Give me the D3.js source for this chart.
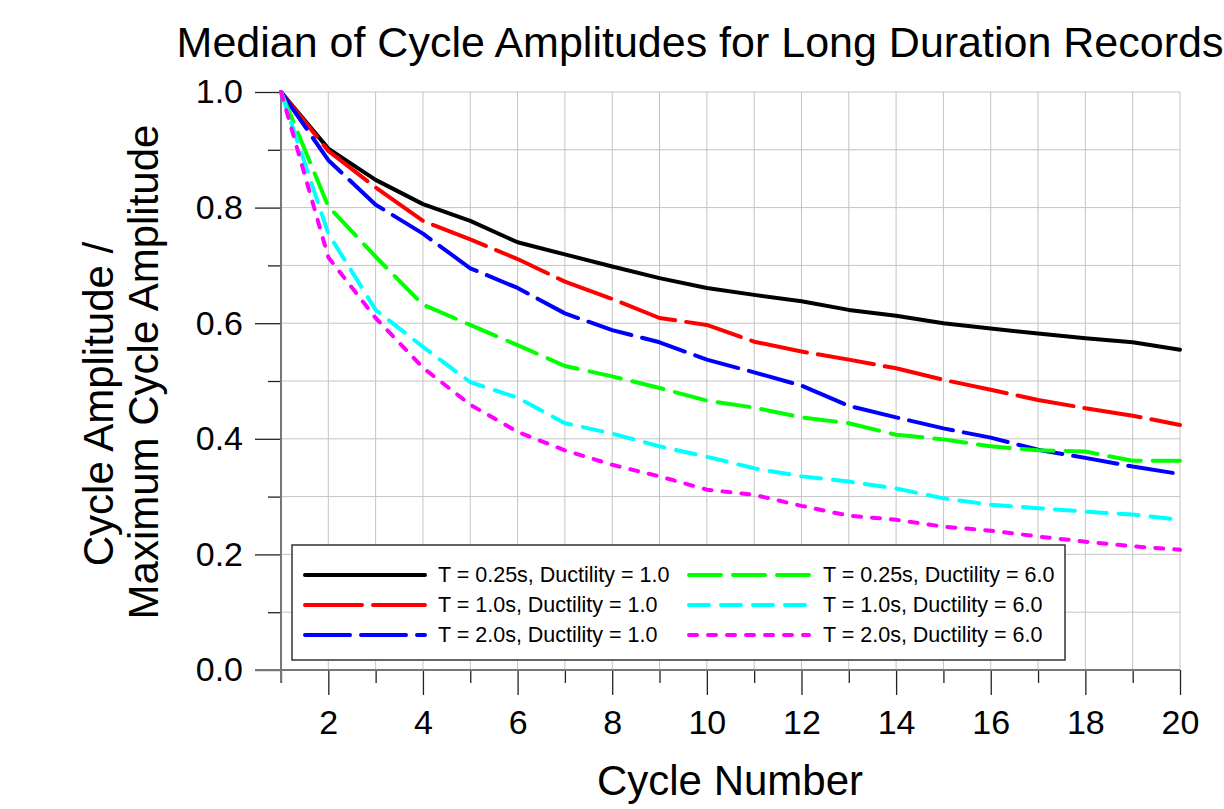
<!DOCTYPE html>
<html>
<head>
<meta charset="utf-8">
<script src="https://cdn.jsdelivr.net/npm/d3@7"></script>
<style>
  body { margin: 0; background: #fff; }
  svg { display: block; font-family: "Liberation Sans", Arial, sans-serif; }
</style>
</head>
<body>
<div id="chart"></div>
<script>
// ─── DATA ─────────────────────────────────────────────────────────────────────
const cycles = d3.range(1, 21);

const t025_d1 = [1.0, 0.902, 0.848, 0.806, 0.777, 0.740, 0.719, 0.698, 0.678, 0.661,
                 0.649, 0.638, 0.623, 0.613, 0.600, 0.591, 0.582, 0.574, 0.567, 0.554];
const t10_d1  = [1.0, 0.898, 0.835, 0.777, 0.745, 0.711, 0.672, 0.642, 0.609, 0.597,
                 0.568, 0.551, 0.537, 0.522, 0.502, 0.485, 0.467, 0.453, 0.440, 0.424];
const t20_d1  = [1.0, 0.882, 0.805, 0.755, 0.695, 0.661, 0.617, 0.588, 0.567, 0.537,
                 0.515, 0.492, 0.457, 0.437, 0.418, 0.402, 0.381, 0.367, 0.352, 0.339];
const t025_d6 = [1.0, 0.802, 0.715, 0.632, 0.597, 0.562, 0.526, 0.508, 0.488, 0.466,
                 0.454, 0.437, 0.427, 0.407, 0.399, 0.387, 0.380, 0.378, 0.362, 0.362];
const t10_d6  = [1.0, 0.755, 0.623, 0.559, 0.498, 0.471, 0.427, 0.409, 0.387, 0.369,
                 0.349, 0.335, 0.326, 0.314, 0.297, 0.286, 0.280, 0.274, 0.269, 0.260];
const t20_d6  = [1.0, 0.714, 0.609, 0.523, 0.459, 0.412, 0.380, 0.355, 0.335, 0.312,
                 0.303, 0.284, 0.267, 0.260, 0.248, 0.241, 0.231, 0.222, 0.214, 0.208];

const seriesNames = [
  "T = 0.25s, Ductility = 1.0",
  "T = 1.0s, Ductility = 1.0",
  "T = 2.0s, Ductility = 1.0",
  "T = 0.25s, Ductility = 6.0",
  "T = 1.0s, Ductility = 6.0",
  "T = 2.0s, Ductility = 6.0"
];
const seriesValues = [t025_d1, t10_d1, t20_d1, t025_d6, t10_d6, t20_d6];

const xMajorTicks = d3.range(2, 21, 2);
const xMinorTicks = d3.range(1, 21, 2);
const yMajorTicks = [0, 0.2, 0.4, 0.6, 0.8, 1.0];
const yMinorTicks = [0.1, 0.3, 0.5, 0.7, 0.9];

// ─── STYLE ────────────────────────────────────────────────────────────────────
const colors = ["#000000", "#ff0000", "#0000ff", "#00ff00", "#00ffff", "#ff00ff"];
const dashes = ["none", "57,11", "45,11", "32,12", "20,12", "8,11"];

const W = 1224, H = 809;
const svg = d3.select("#chart").append("svg").attr("width", W).attr("height", H);

const x = d3.scaleLinear().domain([1, 20]).range([281, 1180]);
const y = d3.scaleLinear().domain([0, 1]).range([670, 92]);

// 1. Grid
const grid = svg.append("g").attr("stroke", "#c4c4c4").attr("stroke-width", 1);
grid.selectAll(".gv").data(d3.range(2, 21)).join("line")
  .attr("x1", d => x(d)).attr("x2", d => x(d))
  .attr("y1", y(0)).attr("y2", y(1));
grid.selectAll(".gh").data(d3.range(1, 11).map(d => d / 10)).join("line")
  .attr("x1", x(1)).attr("x2", x(20))
  .attr("y1", d => y(d)).attr("y2", d => y(d));

// 2. Axes (ticks through d3 axis generators)
function styleAxis(g) {
  g.select(".domain").remove();
  g.selectAll(".tick line").attr("stroke", "#222").attr("stroke-width", 1.3);
  g.selectAll(".tick text")
    .attr("fill", "#000")
    .style("font-size", "34px")
    .style("font-family", '"Liberation Sans", Arial, sans-serif');
}

svg.append("g").attr("transform", `translate(0,${y(0)})`)
  .call(d3.axisBottom(x).tickValues(xMinorTicks).tickSize(13).tickFormat(""))
  .call(styleAxis);
svg.append("g").attr("transform", `translate(0,${y(0)})`)
  .call(d3.axisBottom(x).tickValues(xMajorTicks).tickSize(25).tickPadding(15).tickFormat(d3.format("d")))
  .call(styleAxis);

svg.append("g").attr("transform", `translate(${x(1)},0)`)
  .call(d3.axisLeft(y).tickValues(yMinorTicks).tickSize(13).tickFormat(""))
  .call(styleAxis);
svg.append("g").attr("transform", `translate(${x(1)},0)`)
  .call(d3.axisLeft(y).tickValues(yMajorTicks).tickSize(26).tickPadding(12).tickFormat(d3.format(".1f")))
  .call(styleAxis);

// axis lines, extended past the corner like the original
svg.append("line")
  .attr("x1", x(1) - 26).attr("x2", x(20))
  .attr("y1", y(0)).attr("y2", y(0))
  .attr("stroke", "#777").attr("stroke-width", 2);
svg.append("line")
  .attr("x1", x(1)).attr("x2", x(1))
  .attr("y1", y(1)).attr("y2", y(0) + 13)
  .attr("stroke", "#777").attr("stroke-width", 2);

// 3. Series
const line = d3.line().x((d, i) => x(cycles[i])).y(d => y(d));
svg.append("g").selectAll("path").data(seriesValues).join("path")
  .attr("d", d => line(d))
  .attr("fill", "none")
  .attr("stroke", (d, i) => colors[i])
  .attr("stroke-width", 4)
  .attr("stroke-linecap", "round")
  .attr("stroke-linejoin", "round")
  .attr("stroke-dasharray", (d, i) => dashes[i]);

// 4. Legend
const legend = svg.append("g");
legend.append("rect")
  .attr("x", 292).attr("y", 545).attr("width", 773).attr("height", 115)
  .attr("fill", "#fff").attr("stroke", "#333").attr("stroke-width", 1.5);

const items = legend.selectAll(".item").data(seriesNames).join("g")
  .attr("transform", (d, i) => {
    const col = Math.floor(i / 3), row = i % 3;
    return `translate(${col === 0 ? 303 : 687},${575 + row * 30})`;
  });
items.append("line")
  .attr("x1", 2).attr("x2", 122).attr("y1", 0).attr("y2", 0)
  .attr("stroke", (d, i) => colors[i])
  .attr("stroke-width", 4)
  .attr("stroke-linecap", "round")
  .attr("stroke-dasharray", (d, i) => dashes[i]);
items.append("text")
  .attr("x", (d, i) => (i < 3 ? 135 : 136))
  .attr("y", 7)
  .style("font-size", "21.5px")
  .text(d => d);

// 5. Titles
svg.append("text")
  .attr("x", 700).attr("y", 57)
  .attr("text-anchor", "middle")
  .style("font-size", "43px")
  .text("Median of Cycle Amplitudes for Long Duration Records");

svg.append("text")
  .attr("x", 730).attr("y", 795)
  .attr("text-anchor", "middle")
  .style("font-size", "42px")
  .text("Cycle Number");

svg.append("text")
  .attr("transform", "translate(113,404) rotate(-90)")
  .attr("text-anchor", "middle")
  .style("font-size", "42px")
  .text("Cycle Amplitude /");
svg.append("text")
  .attr("transform", "translate(158,372) rotate(-90)")
  .attr("text-anchor", "middle")
  .style("font-size", "42px")
  .text("Maximum Cycle Amplitude");
</script>
</body>
</html>
